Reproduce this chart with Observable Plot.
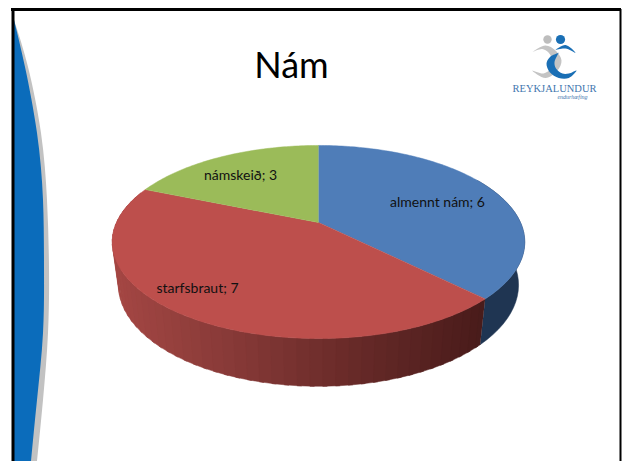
<!DOCTYPE html>
<html><head><meta charset="utf-8">
<style>html,body{margin:0;padding:0;background:#fff}svg{display:block}</style>
<script src="https://cdn.jsdelivr.net/npm/d3@7"></script>
<script src="https://cdn.jsdelivr.net/npm/@observablehq/plot@0.6"></script>
</head><body><div id="chart"></div>
<script>
// Chart data
const categories = ["almennt nám", "starfsbraut", "námskeið"];
const values = [6, 7, 3];
const colors = ["#4F7DB8", "#BD4F4C", "#9BBB59"];
const title = "Nám";
const labelAnchors = [[437, 202], [197, 288], [240, 175]];
// Slide decoration outlines: [y, right edge of the blue, right edge of the grey]
const swoosh = [[20,14,14],[67,25,28],[133,37,41],[200,43,47],[267,44,49],[333,43,48],[400,37,43],[461,31,37]];
const logoGreyArc = [[531.7,51.7],[545,45],[555,50],[561,60],[557,70],[545,77.5],[531.7,70],[543,73],[550,68],[552,60],[548,52],[541.7,48.5],[531.7,51.7]];
const logoBlueArch = [[555,49.3],[565,44.5],[575,52.3],[565,48],[555,49.3]];
const logoBlueC = [[558.3,52.3],[549.3,56.7],[546,63.3],[549.3,71.7],[558.3,77.5],[568.3,77.5],[576,70],[568.3,73],[562,73],[555.5,68],[554,61.7],[558.3,52.3]];

// Perspective model of the pie's disc (angle clockwise from the top)
const cx = 318, topY = 222, rx = 202, ry = 92.6, k = 0.202;
const wallYOffset = 264 - topY, wallYScale = 1.05, wallXScale = 0.97;
const onTop = a => {
  const u = Math.sin(a), v = -Math.cos(a), w = 1 - k * v;
  return [cx + rx * u / w, topY + ry * v / w];
};
const onBase = a => {
  const [x, y] = onTop(a);
  return [cx + (x - cx) * wallXScale, topY + wallYOffset + (y - topY) * wallYScale];
};
const arcs = d3.pie().sort(null)(values);
const toRad = Math.PI / 180;

// Top surface of every slice, from the pie layout
const topPts = arcs.flatMap((s, i) => {
  const n = Math.ceil((s.endAngle - s.startAngle) / toRad);
  const pts = [{slice: i, x: cx, y: topY}];
  for (let j = 0; j <= n; j++) {
    const [x, y] = onTop(s.startAngle + (s.endAngle - s.startAngle) * j / n);
    pts.push({slice: i, x, y});
  }
  return pts;
});

// Red side wall, banded like the reference; each band overlaps the next to hide seams
const redRamp = d3.scaleLinear().domain([118, 220, 330, 480])
  .range(["#A34643", "#8A3B39", "#6E2D2B", "#4A1C1B"]);
const wallBands = [];
const stepDeg = 3, blueEndDeg = arcs[0].endAngle / toRad;
for (let deg = 290; deg > blueEndDeg; deg -= stepDeg) {
  const far = Math.max(blueEndDeg, deg - stepDeg - 1);
  const a0 = far * toRad, a1 = deg * toRad;
  const [x0, y0] = onTop(a0), [x1, y1] = onTop(a1);
  const [bx0, by0] = onBase(a0), [bx1, by1] = onBase(a1);
  const fill = redRamp((x0 + x1) / 2);
  wallBands.push({id: deg, fill, x: x0, y: y0}, {id: deg, fill, x: x1, y: y1},
                 {id: deg, fill, x: bx1, y: by1}, {id: deg, fill, x: bx0, y: by0});
}
// Blue side wall: one solid shape
const blueWall = [];
for (let deg = 60; deg <= blueEndDeg; deg += 3) {
  const [x, y] = onTop(deg * toRad);
  blueWall.push({x, y});
}
for (let deg = blueEndDeg; deg >= 60; deg -= 3) {
  const [x, y] = onBase(deg * toRad);
  blueWall.push({x, y});
}

const labels = categories.map((c, i) => ({
  text: c + "; " + values[i], x: labelAnchors[i][0], y: labelAnchors[i][1]
}));

const chart = Plot.plot({
  width: 622, height: 461, margin: 0, axis: null,
  x: {domain: [0, 622], range: [0, 622]},
  y: {domain: [0, 461], range: [0, 461]},
  marks: [
    // slide
    Plot.areaX(swoosh, {y: d => d[0], x1: 14, x2: d => d[2], fill: "#C2C2C2", curve: "natural"}),
    Plot.areaX(swoosh, {y: d => d[0], x1: 14, x2: d => d[1], fill: "#0B6CBB", curve: "natural"}),
    Plot.ruleX([12.5], {y1: 9, y2: 461, stroke: "#000", strokeWidth: 3}),
    Plot.ruleX([620], {y1: 9, y2: 461, stroke: "#000", strokeWidth: 2}),
    Plot.ruleY([9], {x1: 11, x2: 621, stroke: "#000", strokeWidth: 3}),
    // pie
    Plot.line(blueWall, {x: "x", y: "y", fill: "#1F3552", stroke: "#1F3552", strokeWidth: 0.5}),
    Plot.line(wallBands, {x: "x", y: "y", z: "id", fill: "fill", stroke: "fill", strokeWidth: 0.5}),
    Plot.line(topPts, {x: "x", y: "y", z: "slice", fill: d => colors[d.slice], stroke: d => colors[d.slice], strokeWidth: 0.5}),
    Plot.text(labels, {x: "x", y: "y", text: "text", fontFamily: "Lato", fontSize: 14, fill: "#111"}),
    // title
    Plot.text([title], {x: [291], y: [66], fontFamily: "Lato", fontSize: 36, fill: "#000"}),
    // logo
    Plot.dot([[547, 39]], {x: d => d[0], y: d => d[1], r: 4.2, fill: "#BDBDBD"}),
    Plot.dot([[560, 39]], {x: d => d[0], y: d => d[1], r: 4.6, fill: "#1A6FB5"}),
    Plot.line(logoGreyArc, {x: d => d[0], y: d => d[1], fill: "#C4C4C4", stroke: null, curve: "catmull-rom"}),
    Plot.line(logoBlueArch, {x: d => d[0], y: d => d[1], fill: "#1A6FB5", stroke: null, curve: "catmull-rom"}),
    Plot.line(logoBlueC, {x: d => d[0], y: d => d[1], fill: "#1A6FB5", stroke: null, curve: "catmull-rom"}),
    Plot.text(["REYKJALUNDUR"], {x: [554], y: [88], fontFamily: "Liberation Serif", fontSize: 10.5, fill: "#3F76AE", style: {letterSpacing: "0.5px"}}),
    Plot.text(["endurhæfing"], {x: [572], y: [97], fontFamily: "Liberation Serif", fontStyle: "italic", fontSize: 6, fill: "#3F76AE"})
  ]
});
document.getElementById("chart").append(chart);
</script></body></html>
